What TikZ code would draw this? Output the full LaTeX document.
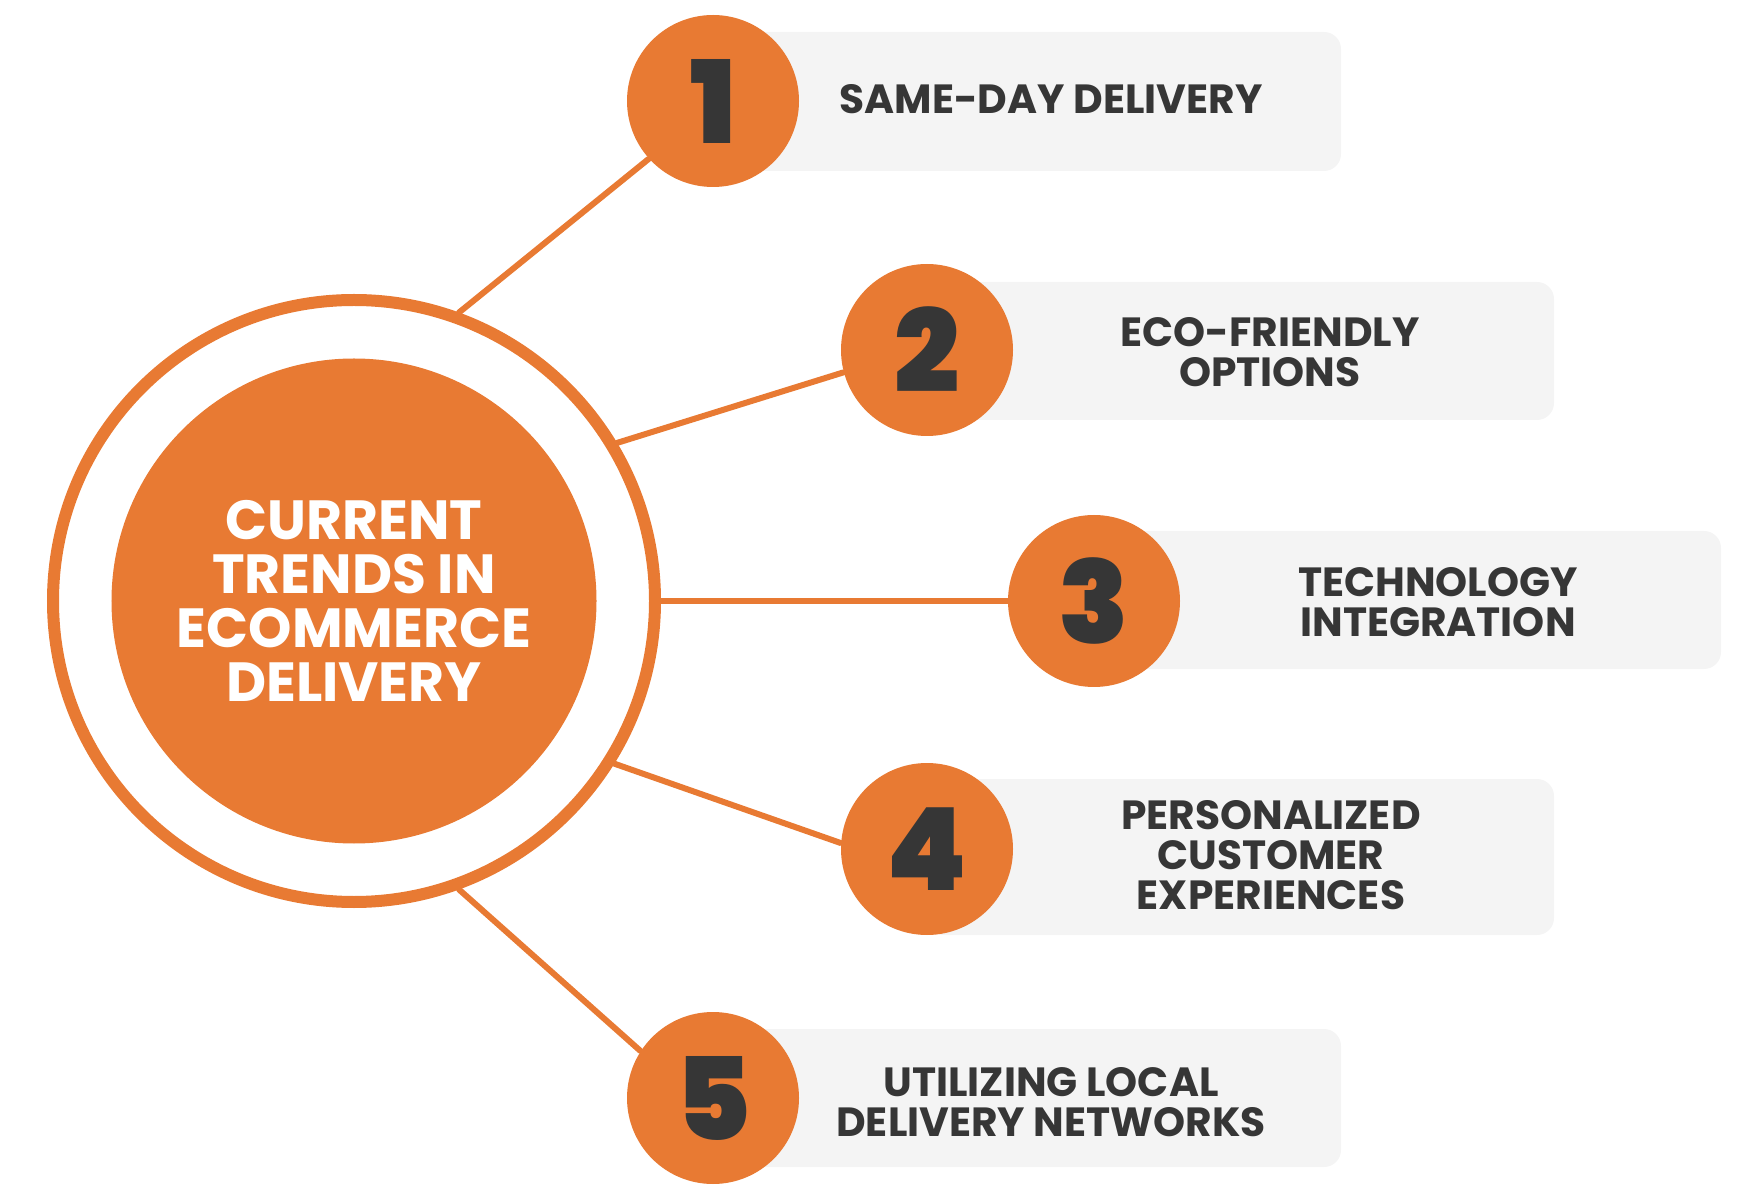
\documentclass[tikz,border=0pt]{standalone}
\usepackage{fontspec}
\setmainfont{Poppins}
\newfontfamily\digitfont{Poppins Black}
\definecolor{trendorange}{HTML}{E87A33}
\definecolor{boxgray}{HTML}{F4F4F4}
\definecolor{textdark}{HTML}{363636}
\begin{document}
\begin{tikzpicture}[x=1.0cm,y=1.0cm,
	link/.style={trendorange, line width=0.06cm, line cap=round},
	numdisc/.style={circle, fill=trendorange, minimum size=1.72cm, inner sep=0pt, text=textdark, font=\digitfont\fontsize{32.7}{32.7}\selectfont},
	trendbox/.style={fill=boxgray, rounded corners=0.17cm},
	trendtext/.style={text=textdark, align=center, font=\bfseries\fontsize{11.6}{11.4}\selectfont}]
			\useasboundingbox (0,0) rectangle (17.4,12);
			\fill[trendbox] (7.13,10.29) rectangle (13.41,11.68);
			\fill[trendbox] (9.27,7.80) rectangle (15.54,9.18);
			\fill[trendbox] (10.94,5.31) rectangle (17.21,6.69);
			\fill[trendbox] (9.27,2.65) rectangle (15.54,4.21);
			\fill[trendbox] (7.13,0.33) rectangle (13.41,1.71);
			\node[circle, draw=trendorange, line width=0.12cm, minimum size=6.02cm, inner sep=0pt] (ring) at (3.54,5.99) {};
			\node[circle, fill=trendorange, minimum size=4.85cm, inner sep=0pt, text=white, align=center, font=\bfseries\fontsize{15.7}{15.4}\selectfont] (hub) at (3.54,5.99) {CURRENT\\TRENDS IN\\ECOMMERCE\\DELIVERY};
			\node[numdisc] (n1) at (7.13,10.99) {1};
			\node[numdisc] (n2) at (9.27,8.50) {2};
			\node[numdisc] (n3) at (10.94,5.99) {3};
			\node[numdisc] (n4) at (9.27,3.51) {4};
			\node[numdisc] (n5) at (7.13,1.02) {5};
			\node[trendtext] (t1) at (10.51,11.01) {SAME-DAY DELIVERY};
			\node[trendtext] (t2) at (12.70,8.475) {ECO-FRIENDLY\\OPTIONS};
			\node[trendtext] (t3) at (14.38,5.98) {TECHNOLOGY\\INTEGRATION};
			\node[trendtext] (t4) at (12.71,3.45) {PERSONALIZED\\CUSTOMER\\EXPERIENCES};
			\node[trendtext] (t5) at (10.51,0.98) {UTILIZING LOCAL\\DELIVERY NETWORKS};
			\draw[link] (ring.70) -- (n1.222);
			\draw[link] (ring.31.5) -- (n2.195);
			\draw[link] (ring.0) -- (n3.180);
			\draw[link] (ring.-32.6) -- (n4.176);
			\draw[link] (ring.-70.7) -- (n5.147);
	\end{tikzpicture}
\end{document}
